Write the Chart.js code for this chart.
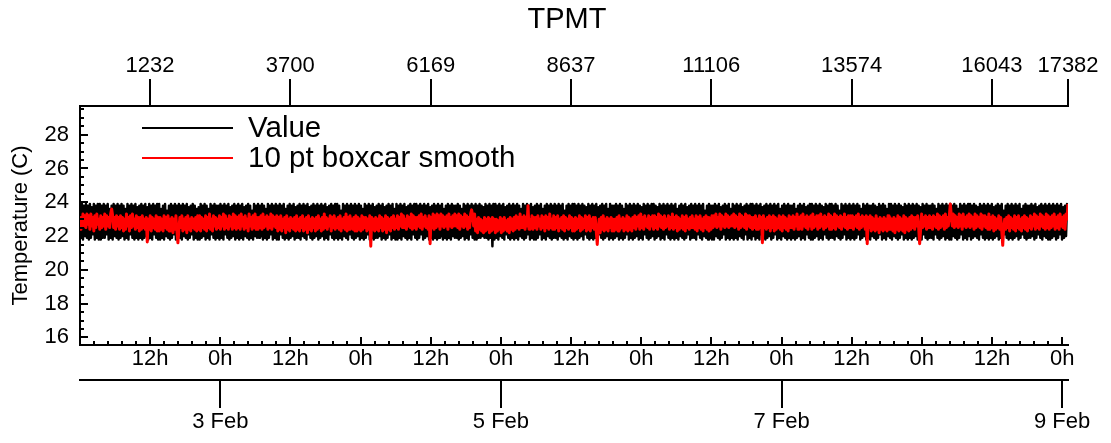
<!DOCTYPE html>
<html><head><meta charset="utf-8">
<script src="https://cdn.jsdelivr.net/npm/chart.js@4"></script>
<style>html,body{margin:0;padding:0;background:#fff}#wrap{width:1111px;height:443px;position:relative}</style>
</head><body><div id="wrap"><canvas id="c" width="1111" height="443"></canvas></div>
<script>
const TITLE = 'TPMT';
const Y_TITLE = 'Temperature (C)';
const SERIES_NAMES = ['Value', '10 pt boxcar smooth'];
const N_SAMPLES = 17382;
const SPAN_HOURS = 169;
const TOP_TICKS = [1232, 3700, 6169, 8637, 11106, 13574, 16043, 17382];
const Y_TICKS = [16, 18, 20, 22, 24, 26, 28];
const HOUR_TICKS = [12, 24, 36, 48, 60, 72, 84, 96, 108, 120, 132, 144, 156, 168];
const HOUR_LABELS = ['12h', '0h', '12h', '0h', '12h', '0h', '12h', '0h', '12h', '0h', '12h', '0h', '12h', '0h'];
const DATE_TICKS = [24, 72, 120, 168];
const DATE_LABELS = ['3 Feb', '5 Feb', '7 Feb', '9 Feb'];

const VALUE = [
23.8,21.9,23.9,21.8,23.8,22.0,23.9,21.9,23.8,21.8,23.9,21.9,23.7,22.1,23.9,21.8,23.8,21.9,23.9,21.8,
23.9,21.8,23.8,21.9,23.9,21.9,23.8,22.1,23.9,21.8,23.6,21.9,23.8,21.8,23.9,22.0,23.8,21.9,23.9,21.8,
23.8,21.9,23.9,22.0,23.8,21.8,23.6,21.9,23.9,21.8,23.8,22.1,23.9,21.9,23.8,21.8,23.9,21.9,23.7,21.8,
23.8,21.9,23.9,21.8,23.8,21.9,23.9,22.0,23.7,21.8,23.9,21.9,23.8,21.8,23.9,22.1,23.8,21.9,23.9,21.8,
23.9,21.8,23.6,21.9,23.8,21.8,23.9,22.0,23.5,21.9,23.8,21.8,23.9,21.9,23.8,22.1,23.9,21.8,23.8,21.9,
23.9,21.9,23.8,21.8,23.9,22.0,23.8,21.9,23.9,21.8,23.7,21.9,23.8,22.1,23.9,21.8,23.8,21.9,23.6,21.8,
23.7,21.8,23.9,21.9,23.8,22.0,23.9,21.8,23.8,21.9,23.6,21.8,23.9,22.1,23.8,21.9,23.9,21.8,23.8,21.9,
23.8,21.8,23.9,21.9,23.8,21.8,23.9,22.1,23.8,21.9,23.9,21.8,23.7,21.9,23.8,22.0,23.9,21.8,23.8,21.9,
23.9,21.8,23.8,21.9,23.9,21.8,23.7,22.0,23.8,21.9,23.9,21.8,23.8,21.9,23.5,21.8,23.9,22.0,23.8,21.9,
23.9,21.9,23.8,22.0,23.9,21.8,23.8,21.9,23.6,21.8,23.9,21.9,23.8,22.1,23.9,21.8,23.8,21.9,23.9,21.8,
23.8,21.8,23.9,22.1,23.8,21.9,23.9,21.8,23.6,21.9,23.8,21.8,23.9,21.9,23.8,22.0,23.9,21.8,23.7,21.9,
23.8,21.9,23.9,21.8,23.8,22.0,23.9,21.9,23.8,21.8,23.9,22.1,23.7,21.9,23.8,21.8,23.9,21.9,23.8,22.0,
23.9,21.8,23.8,21.9,23.9,22.0,23.8,21.8,23.9,21.9,23.7,21.8,23.8,22.1,23.9,21.9,23.8,21.8,23.9,21.9,
23.9,21.8,23.8,21.9,23.5,21.8,23.9,22.0,23.8,21.9,23.9,21.8,23.8,22.1,23.9,21.9,23.8,21.8,23.9,21.9,
23.8,22.0,23.9,21.8,23.8,21.9,23.6,21.8,23.9,21.9,23.8,22.1,23.9,21.8,23.8,21.9,23.9,21.8,23.7,21.9,
23.8,21.9,23.9,22.0,23.8,21.8,23.9,21.9,23.7,21.8,23.8,21.9,23.9,22.1,23.8,21.8,23.9,21.9,23.6,21.8,
23.9,21.8,23.8,21.9,23.9,21.8,23.8,22.0,23.9,21.9,23.7,21.8,23.8,21.9,23.9,21.8,23.8,22.1,23.9,21.9,
23.9,21.8,23.8,21.9,23.9,22.1,23.8,21.8,23.9,21.9,23.8,22.0,23.9,21.8,23.7,21.9,23.8,21.8,23.9,21.9,
23.8,21.8,23.9,21.9,23.8,22.0,23.9,21.8,23.6,21.9,23.8,21.8,23.9,21.9,23.8,21.8,23.9,22.0,23.8,21.9,
23.8,21.9,23.9,21.8,23.8,21.9,23.6,22.0,23.9,21.8,23.8,21.9,23.9,21.8,23.8,22.1,23.9,21.9,23.8,21.8,
23.9,21.8,23.8,21.9,23.9,21.9,23.8,22.0,23.7,21.9,23.9,21.9,23.8,21.8,23.9,21.9,23.8,21.4,23.9,21.8,
23.9,21.9,23.8,21.8,23.9,22.0,23.8,21.9,23.9,21.8,23.7,22.1,23.8,21.9,23.9,21.8,23.8,21.9,23.9,21.8,
23.8,21.9,23.9,21.8,23.8,22.0,23.6,21.9,23.9,21.8,23.8,21.9,23.9,22.1,23.8,21.8,23.9,21.9,23.7,21.8,
23.8,21.8,23.9,21.9,23.8,22.1,23.9,21.8,23.6,21.9,23.8,21.8,23.9,22.0,23.8,21.9,23.9,21.8,23.8,21.9,
23.9,21.9,23.8,21.8,23.9,22.0,23.8,21.9,23.9,21.8,23.5,21.9,23.8,21.8,23.9,22.0,23.8,21.9,23.9,21.8,
23.9,21.9,23.8,21.8,23.9,21.9,23.8,22.0,23.9,21.8,23.8,22.1,23.7,21.9,23.9,21.8,23.8,21.9,23.9,21.8,
23.8,21.9,23.9,21.8,23.7,22.1,23.8,21.9,23.9,21.8,23.8,21.9,23.9,22.0,23.6,21.8,23.9,21.9,23.8,21.8,
23.8,21.9,23.9,22.0,23.8,21.8,23.9,21.9,23.8,21.8,23.6,21.9,23.9,22.1,23.8,21.8,23.9,21.9,23.8,21.8,
23.9,21.9,23.8,22.0,23.9,21.8,23.8,21.9,23.7,21.8,23.9,22.1,23.8,21.9,23.9,21.8,23.8,21.9,23.9,22.0,
23.9,21.8,23.8,21.9,23.7,22.0,23.9,21.8,23.8,21.9,23.9,21.8,23.8,22.1,23.9,21.9,23.8,21.8,23.9,21.9,
23.8,21.8,23.9,21.9,23.6,21.8,23.8,22.0,23.9,21.9,23.8,21.8,23.9,21.9,23.7,22.1,23.8,21.8,23.9,21.9,
23.8,21.9,23.9,21.8,23.8,22.1,23.9,21.9,23.8,21.8,23.9,22.0,23.5,21.9,23.8,21.8,23.9,21.9,23.8,21.8,
23.8,21.8,23.9,22.0,23.8,21.9,23.9,21.8,23.7,21.9,23.8,22.1,23.9,21.8,23.8,21.9,23.9,21.8,23.6,21.9,
23.9,21.8,23.8,21.9,23.9,21.8,23.8,22.0,23.9,21.9,23.7,21.8,23.8,22.1,23.9,21.8,23.8,21.9,23.9,21.8,
23.9,22.0,23.8,21.8,23.9,21.9,23.8,21.8,23.9,22.1,23.7,21.9,23.8,21.8,23.9,21.9,23.8,22.0,23.9,21.8,
23.8,21.9,23.9,22.1,23.8,21.8,23.9,21.9,23.6,21.8,23.8,22.0,23.9,21.9,23.8,21.8,23.9,21.9,23.8,21.8,
23.8,21.9,23.9,21.8,23.6,21.9,23.8,22.0,23.9,21.8,23.8,21.9,23.9,21.8,23.7,22.1,23.8,21.9,23.9,21.8,
23.9,21.8,23.8,21.9,23.9,22.0,23.8,21.8,23.9,21.9,23.8,21.8,23.7,22.1,23.9,21.9,23.8,21.8,23.9,21.9,
23.9,21.9,23.8,21.8,23.9,22.0,23.8,21.9,23.5,21.8,23.9,21.9,23.8,22.1,23.9,21.8,23.8,21.9,23.9,21.8,
23.8,21.9,23.9,21.8,23.8,21.9,23.9,22.1,23.8,21.8,23.6,21.9,23.9,22.0,23.8,21.8,23.9,21.9,23.8,21.8,
23.8,22.0,23.9,21.9,23.8,21.8,23.7,21.9,23.9,22.1,23.8,21.8,23.9,21.9,23.8,21.8,23.6,22.0,23.9,21.9,
23.9,21.8,23.8,22.0,23.9,21.9,23.8,21.8,23.9,21.9,23.8,22.1,23.7,21.8,23.9,21.9,23.8,21.8,23.9,21.9,
23.8,21.8,23.9,21.9,23.8,22.0,23.9,21.8,23.8,21.9,23.7,21.8,23.9,22.1,23.8,21.9,23.9,21.8,23.8,21.9,
23.8,21.9,23.9,21.8,23.8,22.1,23.6,21.9,23.9,21.8,23.8,21.9,23.9,22.0,23.8,21.8,23.9,21.9,23.8,21.8,
23.9,21.8,23.8,22.0,23.9,21.9,23.8,21.8,23.6,21.9,23.9,22.1,23.8,21.8,23.9,21.9,23.8,21.8,23.9,22.0,
23.9,21.8,23.8,21.9,23.9,22.0,23.8,21.9,23.7,21.8,23.9,22.1,23.8,21.9,23.9,21.8,23.8,21.9,23.9,21.8,
23.8,21.9,23.9,21.8,23.7,21.9,23.8,22.0,23.9,21.8,23.8,21.9,23.9,21.8,23.5,22.1,23.8,21.9,23.9,21.8,
23.8,21.9,23.9,21.8,23.8,21.9,23.9,22.0,23.8,21.8,23.9,21.9,23.6,22.1,23.8,21.9,23.9,21.8,23.8,21.9,
23.8,21.9,23.9,22.0,23.8,21.8,23.9,21.9,23.7,22.1,23.8,21.9,23.9,21.8,23.8,22.0,23.9,21.9,23.8,21.8,
23.9,21.8,23.8,21.9,23.9,22.0,23.8,21.8,23.9,21.9,23.8,22.1,23.9,21.8,23.7,21.9,23.8,22.0,23.9,23.4
];

const SMOOTH = [
22.4,23.1,22.5,23.3,22.6,23.2,22.5,23.3,22.7,23.2,22.4,23.3,22.6,23.1,22.3,23.2,22.5,23.3,22.7,23.0,
22.4,23.2,22.5,23.1,22.6,23.3,22.4,23.2,22.6,23.1,22.5,23.3,23.6,23.2,22.5,23.1,22.4,23.2,22.6,23.1,
22.4,23.2,22.5,23.1,22.3,23.0,22.4,23.3,22.6,23.1,22.3,23.2,22.5,23.3,22.6,23.0,22.4,23.2,22.5,23.1,
22.3,23.1,22.4,23.2,22.5,23.0,22.4,23.1,21.65,23.0,22.4,23.2,22.3,23.1,22.5,23.0,22.4,23.2,22.3,23.1,
22.3,23.1,22.4,23.0,22.3,23.2,22.5,23.1,22.4,23.2,22.3,23.0,22.5,23.1,22.2,23.0,22.4,23.2,22.3,21.6,
22.4,23.1,22.5,23.2,22.3,23.0,22.4,23.1,22.2,23.2,22.4,23.0,22.3,23.1,22.5,23.0,22.4,23.1,22.3,23.2,
22.4,23.2,22.3,23.1,22.5,23.0,22.4,23.2,22.3,23.1,22.5,23.3,22.4,23.0,22.3,23.2,22.6,23.1,22.4,23.0,
22.5,23.2,22.4,23.1,22.6,23.3,22.4,23.2,22.5,23.0,22.4,23.2,22.6,23.1,22.4,23.3,22.5,23.2,22.4,23.1,
22.5,23.2,22.4,23.3,22.6,23.1,22.4,23.2,22.5,23.0,22.3,23.3,22.6,23.1,22.4,23.2,22.5,23.3,22.4,23.1,
22.4,23.1,22.5,23.2,22.4,23.3,22.5,23.1,22.6,23.2,22.4,23.1,22.5,23.3,22.4,23.2,22.6,23.1,22.5,23.2,
22.3,23.1,22.4,23.2,22.3,23.0,22.5,23.1,22.2,23.2,22.4,23.0,22.3,23.1,22.5,23.0,22.4,23.1,22.3,23.2,
22.4,23.0,22.3,23.1,22.5,23.2,22.3,23.0,22.4,23.1,22.2,23.2,22.4,23.0,22.3,23.1,22.5,23.0,22.3,23.1,
22.4,23.2,22.5,23.0,22.3,23.1,22.4,23.3,22.5,23.1,22.4,23.0,22.6,23.2,22.3,23.1,22.5,23.2,22.4,23.0,
22.5,23.1,22.4,23.2,22.3,23.0,22.5,23.1,22.4,23.3,22.3,23.1,22.4,23.2,22.5,23.0,22.4,23.1,22.3,23.2,
22.3,23.1,22.4,23.0,22.3,23.2,22.4,23.1,22.5,23.1,22.3,23.0,22.4,23.2,21.4,23.1,22.4,23.0,22.3,23.1,
22.4,23.0,22.3,23.2,22.5,23.1,22.3,23.0,22.4,23.2,22.2,23.1,22.4,23.0,22.3,23.1,22.5,23.2,22.4,23.0,
22.5,23.2,22.4,23.1,22.6,23.3,22.5,23.2,22.5,23.0,22.4,23.2,22.6,23.1,22.5,23.3,22.4,23.2,22.5,23.1,
22.4,23.1,22.6,23.2,22.5,23.3,22.4,23.1,22.6,23.2,22.5,23.0,22.4,23.2,21.55,23.1,22.5,23.3,22.4,23.2,
22.5,23.3,22.6,23.2,22.4,23.3,22.6,23.2,22.5,23.1,22.6,23.2,22.4,23.3,22.6,23.1,22.5,23.2,22.6,23.3,
22.6,23.2,22.5,23.3,22.4,23.2,22.6,23.1,22.5,23.3,22.6,23.2,22.4,23.1,22.5,23.3,23.55,23.2,22.6,23.3,
22.3,23.0,22.2,23.1,22.4,23.0,22.3,22.9,22.2,23.1,22.3,23.0,22.4,23.1,22.2,23.0,22.3,23.1,22.4,23.0,
22.2,23.0,22.3,22.9,22.4,23.1,22.2,23.0,22.3,23.1,22.4,22.9,22.3,23.0,22.2,23.1,22.4,23.0,22.3,23.1,
22.4,23.2,22.5,23.1,22.4,23.3,22.5,23.1,22.5,23.2,22.4,23.1,22.6,23.8,22.4,23.0,22.5,23.2,22.4,23.1,
22.5,23.1,22.4,23.2,22.6,23.0,22.4,23.2,22.5,23.1,22.3,23.2,22.5,23.1,22.4,23.3,22.5,23.0,22.4,23.2,
22.4,23.1,22.5,23.2,22.3,23.0,22.5,23.1,22.4,23.2,22.3,23.1,22.5,23.0,22.4,23.2,22.5,23.1,22.3,23.0,
22.3,23.1,22.4,23.0,22.5,23.2,22.3,23.1,22.4,23.0,22.5,23.2,22.3,23.1,22.4,23.2,22.3,23.0,22.5,23.1,
22.4,23.1,22.3,21.5,22.4,23.0,22.2,23.1,22.4,23.2,22.3,23.0,22.4,23.1,22.3,23.0,22.5,23.1,22.3,23.0,
22.3,23.0,22.4,23.1,22.3,23.2,22.4,23.0,22.5,23.1,22.3,23.0,22.4,23.2,22.3,23.1,22.4,23.0,22.3,23.1,
22.5,23.2,22.4,23.1,22.6,23.2,22.4,23.3,22.5,23.1,22.4,23.2,22.6,23.0,22.5,23.2,22.4,23.1,22.6,23.2,
22.4,23.2,22.5,23.1,22.4,23.3,22.6,23.2,22.5,23.1,22.4,23.2,22.5,23.0,22.6,23.2,22.4,23.1,22.5,23.3,
22.4,23.1,22.5,23.2,22.3,23.1,22.4,23.0,22.5,23.2,22.4,23.1,22.3,23.2,22.5,23.0,22.4,23.1,22.5,23.2,
22.5,23.0,22.4,23.2,22.3,23.1,22.5,23.2,22.4,23.0,22.3,23.1,22.5,23.2,22.4,23.1,22.3,23.0,22.4,23.2,
22.5,23.2,22.6,23.3,22.5,23.1,22.6,23.3,22.4,23.2,22.6,23.1,22.5,23.3,22.6,23.2,22.5,23.1,22.6,23.2,
22.6,23.3,22.5,23.2,22.6,23.1,22.4,23.3,22.5,23.2,22.6,23.1,22.5,23.3,22.4,23.2,22.6,23.2,22.5,23.1,
22.4,23.1,22.5,23.2,22.4,23.0,22.4,23.2,22.5,23.1,21.6,23.2,22.5,23.0,22.4,23.1,22.5,23.2,22.3,23.1,
22.5,23.2,22.3,23.1,22.4,23.0,22.5,23.2,22.4,23.1,22.3,23.2,22.5,23.1,22.4,23.0,22.3,23.2,22.5,23.1,
22.5,23.2,22.4,23.1,22.6,23.3,22.4,23.1,22.5,23.2,22.4,23.3,22.6,23.1,22.5,23.2,22.4,23.1,22.6,23.2,
22.4,23.3,22.5,23.1,22.6,23.2,22.4,23.2,22.5,23.3,22.6,23.1,22.4,23.2,22.5,23.1,22.6,23.3,22.4,23.2,
22.4,23.1,22.5,23.3,22.4,23.2,22.6,23.1,22.5,23.2,22.4,23.1,22.6,23.3,22.5,23.1,22.4,23.2,22.5,23.2,
22.5,23.2,22.4,23.1,22.6,23.2,22.5,23.3,22.4,23.1,22.5,23.2,22.6,23.1,22.4,23.2,21.55,23.1,22.5,23.2,
22.3,23.1,22.4,23.0,22.3,23.2,22.4,23.0,22.2,23.1,22.4,23.0,22.3,23.1,22.4,23.0,22.3,23.2,22.4,23.1,
22.4,23.0,22.3,23.1,22.2,23.0,22.4,23.2,22.3,23.1,22.4,23.0,22.3,23.2,22.2,23.1,22.4,23.0,22.3,23.1,
22.4,23.2,22.5,23.1,22.4,23.1,22.6,23.2,22.5,21.55,22.4,23.3,22.5,23.1,22.6,23.2,22.4,23.1,22.5,23.2,
22.5,23.1,22.4,23.2,22.6,23.1,22.5,23.3,22.4,23.2,22.5,23.1,22.6,23.2,22.4,23.3,22.5,23.1,22.6,23.2,
23.9,23.2,22.6,23.3,22.5,23.2,22.6,23.1,22.5,23.3,22.6,23.2,22.4,23.3,22.6,23.1,22.5,23.2,22.6,23.3,
22.5,23.2,22.6,23.1,22.4,23.3,22.5,23.2,22.6,23.1,22.5,23.3,22.4,23.2,22.6,23.2,22.5,23.1,22.4,23.3,
22.4,23.1,22.5,23.2,22.3,23.1,22.4,23.0,22.5,23.2,22.4,23.1,22.3,21.45,22.5,23.0,22.4,23.1,22.5,23.2,
22.3,23.1,22.5,23.0,22.4,23.2,22.3,23.1,22.5,23.2,22.4,23.0,22.3,23.1,22.5,23.2,22.4,23.1,22.3,23.0,
22.5,23.2,22.4,23.1,22.6,23.3,22.4,23.2,22.5,23.1,22.4,23.3,22.6,23.2,22.5,23.1,22.4,23.3,22.5,23.2,
22.4,23.1,22.5,23.2,22.6,23.3,22.4,23.1,22.5,23.2,22.4,23.3,22.6,23.1,22.5,23.2,22.4,23.3,23.0,23.9
];

const FONT = 'Liberation Sans, Arial, Helvetica, sans-serif';
const toXY = arr => arr.map((v, i) => ({ x: i * N_SAMPLES / (arr.length - 1), y: v }));
const setTicks = list => s => { s.ticks = list.map(v => ({ value: v })); };

const extras = {
  id: 'extras',
  afterDraw(chart) {
    const ctx = chart.ctx;
    const ca = chart.chartArea;
    const ys = chart.scales.y, xh = chart.scales.xh;
    ctx.save();
    ctx.strokeStyle = '#000';
    ctx.lineWidth = 2;
    for (let v = 16; v <= 29.5; v += 0.5) {
      const p = Math.round(ys.getPixelForValue(v));
      const len = (v % 2 === 0) ? 8 : 4;
      ctx.beginPath(); ctx.moveTo(ca.left, p); ctx.lineTo(ca.left + len, p); ctx.stroke();
    }
    for (let k = 0; k * 2.4 <= SPAN_HOURS; k++) {
      const h = k * 2.4;
      const p = Math.round(xh.getPixelForValue(h));
      const len = (k % 5 === 0) ? 8 : 4;
      ctx.beginPath(); ctx.moveTo(p, ca.bottom); ctx.lineTo(p, ca.bottom - len); ctx.stroke();
    }
    ctx.fillStyle = '#000';
    ctx.font = '29px ' + FONT;
    ctx.textAlign = 'center';
    ctx.textBaseline = 'middle';
    ctx.fillText(TITLE, 567, 20);
    const ds = chart.data.datasets;
    const rows = [128, 158];
    ctx.textAlign = 'left';
    ctx.font = '29.5px ' + FONT;
    ds.forEach((d, i) => {
      ctx.strokeStyle = d.borderColor;
      ctx.lineWidth = 2;
      ctx.beginPath(); ctx.moveTo(142, rows[i]); ctx.lineTo(233, rows[i]); ctx.stroke();
      ctx.fillText(d.label, 248, rows[i] + 1);
    });
    ctx.restore();
  }
};

const tickFont = { family: FONT, size: 22 };

new Chart(document.getElementById('c'), {
  type: 'line',
  data: {
    datasets: [
      { label: SERIES_NAMES[0], data: toXY(VALUE), borderColor: '#000000', borderWidth: 2.5, borderJoinStyle: 'round', pointRadius: 0, tension: 0, xAxisID: 'xs', yAxisID: 'y', order: 2 },
      { label: SERIES_NAMES[1], data: toXY(SMOOTH), borderColor: '#ff0000', borderWidth: 3, borderJoinStyle: 'round', pointRadius: 0, tension: 0, xAxisID: 'xs', yAxisID: 'y', order: 1 }
    ]
  },
  options: {
    responsive: false,
    animation: false,
    layout: { padding: { left: 0, right: 43, top: 0, bottom: 0 } },
    plugins: { legend: { display: false }, title: { display: false }, tooltip: { enabled: false } },
    scales: {
      xs: {
        type: 'linear', position: 'top', min: 0, max: N_SAMPLES,
        afterBuildTicks: setTicks(TOP_TICKS),
        afterFit: s => { s.height = 106; },
        ticks: { callback: v => String(v), font: tickFont, color: '#000', padding: 0, autoSkip: false, maxRotation: 0 },
        grid: { drawOnChartArea: false, drawTicks: true, tickLength: 27, color: '#000', lineWidth: 2 },
        border: { display: true, color: '#000', width: 2 }
      },
      xh: {
        type: 'linear', position: 'bottom', weight: 1, min: 0, max: SPAN_HOURS,
        afterBuildTicks: setTicks(HOUR_TICKS),
        afterFit: s => { s.height = 35; },
        ticks: { callback: (v, i) => HOUR_LABELS[i], font: tickFont, color: '#000', padding: 1, autoSkip: false, maxRotation: 0 },
        grid: { display: false, drawTicks: false },
        border: { display: true, color: '#000', width: 2 }
      },
      xd: {
        type: 'linear', position: 'bottom', weight: 2, min: 0, max: SPAN_HOURS,
        afterBuildTicks: setTicks(DATE_TICKS),
        afterFit: s => { s.height = 63; },
        ticks: { callback: (v, i) => DATE_LABELS[i], font: tickFont, color: '#000', padding: 1, autoSkip: false, maxRotation: 0 },
        grid: { drawOnChartArea: false, drawTicks: true, tickLength: 28, color: '#000', lineWidth: 2 },
        border: { display: true, color: '#000', width: 2 }
      },
      y: {
        type: 'linear', position: 'left', min: 15.55, max: 29.7,
        afterBuildTicks: setTicks(Y_TICKS),
        afterFit: s => { s.width = 80; },
        ticks: { callback: v => String(v), font: tickFont, color: '#000', padding: 11 },
        grid: { display: false, drawTicks: false },
        border: { display: true, color: '#000', width: 2 },
        title: { display: true, text: Y_TITLE, font: { family: FONT, size: 22 }, color: '#000', padding: { top: 8, bottom: 0 } }
      }
    }
  },
  plugins: [extras]
});
</script>
</body></html>
